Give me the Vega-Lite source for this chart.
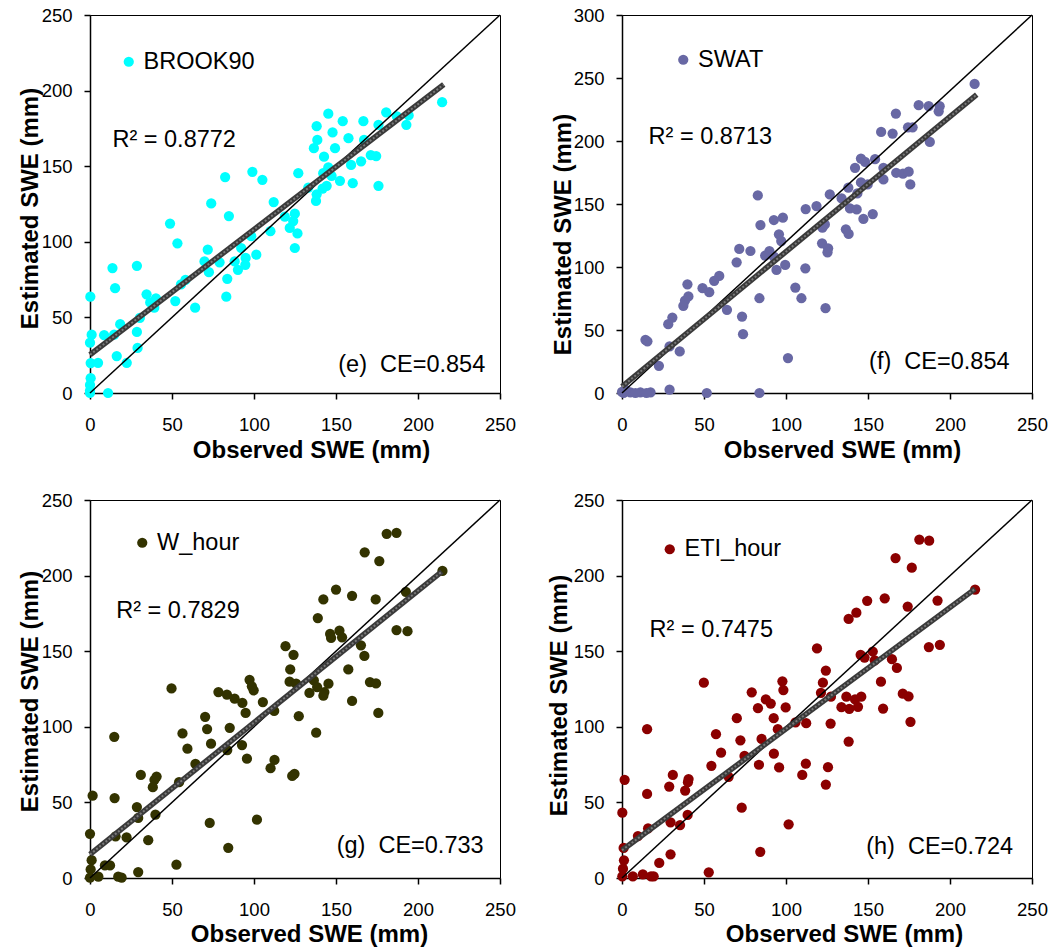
{
"$schema": "https://vega.github.io/schema/vega-lite/v6.json",
"padding": {"left": 17, "top": 5, "right": 5, "bottom": 5},
"background": "white",
"columns": 2,
"spacing": {"row": 107, "column": 122},
"bounds": "flush",
"resolve": {"scale": {"color": "independent"}, "legend": {"color": "independent"}},
"datasets": {
"e": [{"o":214.7,"s":192.3},{"o":180.6,"s":185.6},{"o":145.3,"s":184.7},{"o":154.1,"s":179.8},{"o":166.7,"s":179.8},{"o":187.1,"s":183},{"o":194.3,"s":183.6},{"o":192.9,"s":177.4},{"o":175.9,"s":177.4},{"o":138.2,"s":176.5},{"o":147.9,"s":172.3},{"o":138.6,"s":167.4},{"o":157.6,"s":168.5},{"o":167.1,"s":167.4},{"o":136.5,"s":161.9},{"o":149.4,"s":161.9},{"o":142.7,"s":156.3},{"o":171.2,"s":157.4},{"o":174.5,"s":156.7},{"o":165.3,"s":153.2},{"o":159.2,"s":150.8},{"o":145.3,"s":149.2},{"o":142.2,"s":145.4},{"o":147.3,"s":143.6},{"o":152.4,"s":140.3},{"o":160.2,"s":138.8},{"o":175.9,"s":137},{"o":144.3,"s":137},{"o":141.8,"s":135.2},{"o":133.1,"s":135.9},{"o":138.2,"s":131.4},{"o":137.8,"s":127},{"o":127,"s":145.4},{"o":99,"s":146.3},{"o":105.1,"s":141},{"o":82.4,"s":142.8},{"o":112,"s":126.3},{"o":73.9,"s":125.4},{"o":84.7,"s":117},{"o":118.8,"s":116.6},{"o":124.9,"s":118.6},{"o":123.9,"s":113.7},{"o":121.8,"s":109.2},{"o":126.5,"s":105.5},{"o":110,"s":107},{"o":124.9,"s":95.9},{"o":48.8,"s":112.1},{"o":53.3,"s":99},{"o":71.8,"s":94.8},{"o":92.2,"s":95.9},{"o":98.3,"s":103.7},{"o":101.4,"s":91.5},{"o":94.9,"s":89.3},{"o":69.8,"s":87},{"o":79,"s":86.4},{"o":88.2,"s":87},{"o":94.7,"s":84.8},{"o":90.2,"s":81.5},{"o":72.5,"s":79.9},{"o":83.7,"s":75.5},{"o":58.2,"s":74.8},{"o":55.5,"s":71.9},{"o":83.1,"s":63.7},{"o":13.7,"s":82.6},{"o":28.6,"s":84.1},{"o":15.3,"s":69.3},{"o":34.5,"s":65.3},{"o":40.2,"s":62.6},{"o":36.7,"s":59.9},{"o":39.2,"s":56.4},{"o":52,"s":60.8},{"o":64.1,"s":56.4},{"o":0.2,"s":63.7},{"o":30.4,"s":49.7},{"o":18.4,"s":45.5},{"o":1,"s":38.6},{"o":8.6,"s":38.2},{"o":14.7,"s":38.6},{"o":28.6,"s":40.4},{"o":0,"s":33.3},{"o":29,"s":29.8},{"o":16.3,"s":24.4},{"o":22.4,"s":20},{"o":0.4,"s":19.8},{"o":4.9,"s":20},{"o":0.4,"s":9.8},{"o":0,"s":5.3},{"o":0,"s":1.6},{"o":11,"s":0},{"o":0,"s":0}],
"f": [{"o":215,"s":245.3},{"o":180.9,"s":228.4},{"o":187,"s":227.6},{"o":193.7,"s":227.6},{"o":193.1,"s":223.6},{"o":167,"s":221.8},{"o":158,"s":207.2},{"o":165,"s":205.9},{"o":174.4,"s":210.9},{"o":177.2,"s":210.9},{"o":187.7,"s":199.3},{"o":145.7,"s":186.1},{"o":148.2,"s":183.5},{"o":154.3,"s":185.6},{"o":142.1,"s":178.7},{"o":159.4,"s":178.7},{"o":167.2,"s":174.8},{"o":171.3,"s":174.2},{"o":174.8,"s":175.6},{"o":159.4,"s":169.5},{"o":175.8,"s":165.5},{"o":145.7,"s":167.1},{"o":149.8,"s":165.5},{"o":138,"s":162.9},{"o":143.5,"s":158.4},{"o":126.7,"s":157.6},{"o":133.9,"s":154.4},{"o":118.6,"s":148.4},{"o":112,"s":146},{"o":139,"s":146.5},{"o":143.1,"s":145.7},{"o":152.9,"s":142},{"o":147.2,"s":138.1},{"o":82.8,"s":156.8},{"o":84.4,"s":133.3},{"o":92.6,"s":137.3},{"o":98.1,"s":139.1},{"o":95.7,"s":125.9},{"o":97.1,"s":120.6},{"o":122.2,"s":131.2},{"o":123.7,"s":133.8},{"o":136.5,"s":129.9},{"o":138.2,"s":126.2},{"o":122,"s":118.8},{"o":125.7,"s":114.8},{"o":125.3,"s":111.7},{"o":71.5,"s":114.3},{"o":78.3,"s":112.7},{"o":89.9,"s":112.7},{"o":87.3,"s":109},{"o":92.6,"s":108.2},{"o":69.9,"s":103.7},{"o":99.5,"s":101.6},{"o":94.2,"s":97.7},{"o":111.8,"s":99},{"o":59.3,"s":92.9},{"o":56.2,"s":89},{"o":49.1,"s":83.2},{"o":53.2,"s":80},{"o":105.7,"s":83.7},{"o":109.4,"s":75.2},{"o":83.8,"s":75.2},{"o":39.9,"s":86.3},{"o":40.5,"s":76.6},{"o":38.4,"s":73.4},{"o":37.4,"s":69.2},{"o":64,"s":66},{"o":124.1,"s":67.3},{"o":30.7,"s":59.9},{"o":28.2,"s":54.6},{"o":73.2,"s":60.7},{"o":73.8,"s":46.7},{"o":14.3,"s":42.2},{"o":15.5,"s":41},{"o":29,"s":37},{"o":35.2,"s":33},{"o":101.2,"s":27.7},{"o":22.5,"s":21.6},{"o":0,"s":0.8},{"o":5.1,"s":0.5},{"o":11.2,"s":0.5},{"o":17.4,"s":0.5},{"o":29,"s":2.6},{"o":51.7,"s":0},{"o":83.8,"s":0},{"o":1,"s":0},{"o":8.2,"s":0},{"o":14.9,"s":0},{"o":2,"s":2.6}],
"g": [{"o":214.9,"s":203.1},{"o":180.9,"s":227.6},{"o":186.9,"s":228.3},{"o":167.5,"s":215.4},{"o":176.4,"s":209.6},{"o":150,"s":190.8},{"o":159.8,"s":186.6},{"o":142.3,"s":184.2},{"o":174.2,"s":184.2},{"o":192.6,"s":189.3},{"o":138.9,"s":171.9},{"o":186.9,"s":164},{"o":193.6,"s":163.2},{"o":146.4,"s":161.4},{"o":152.1,"s":163.6},{"o":153.7,"s":159.2},{"o":147,"s":158.8},{"o":165.2,"s":153.9},{"o":167.3,"s":146.9},{"o":119.2,"s":153.3},{"o":124.1,"s":147.6},{"o":122.1,"s":137.9},{"o":157.5,"s":137.9},{"o":121.7,"s":129.8},{"o":125.7,"s":128.5},{"o":136.5,"s":130.7},{"o":138.5,"s":126.3},{"o":145.4,"s":128.5},{"o":133.8,"s":122.4},{"o":142.9,"s":123},{"o":142.3,"s":120.6},{"o":170.7,"s":129.6},{"o":174.4,"s":128.7},{"o":159.8,"s":117.1},{"o":175.8,"s":109.2},{"o":97.3,"s":131.1},{"o":98.7,"s":126.8},{"o":99.8,"s":124.1},{"o":78.3,"s":123},{"o":83.5,"s":121.3},{"o":88.2,"s":118.6},{"o":92.9,"s":115.8},{"o":105.4,"s":116.4},{"o":94.9,"s":109.2},{"o":112.3,"s":110.5},{"o":127.3,"s":107},{"o":49.7,"s":125.4},{"o":70.2,"s":106.6},{"o":71.4,"s":98.5},{"o":85.2,"s":99.3},{"o":137.9,"s":96.1},{"o":56.4,"s":95.6},{"o":14.8,"s":93.4},{"o":59.4,"s":85.5},{"o":73.8,"s":88.8},{"o":92.7,"s":87.9},{"o":83.7,"s":84.6},{"o":64.3,"s":75.4},{"o":95.7,"s":78.9},{"o":112.5,"s":78.1},{"o":110.1,"s":72.6},{"o":124.7,"s":68.9},{"o":123.3,"s":67.5},{"o":31,"s":68.2},{"o":40.6,"s":67.1},{"o":39.3,"s":64.9},{"o":38.3,"s":60.1},{"o":54.3,"s":63.4},{"o":1.6,"s":54.4},{"o":15,"s":52.9},{"o":28.6,"s":46.9},{"o":29.4,"s":39.7},{"o":39.9,"s":41.9},{"o":73,"s":36.4},{"o":101.8,"s":38.6},{"o":0,"s":29.2},{"o":15.6,"s":27.6},{"o":22.3,"s":26.8},{"o":35.5,"s":25},{"o":84.3,"s":20},{"o":1,"s":11.8},{"o":9.1,"s":8.3},{"o":12.2,"s":8.3},{"o":52.7,"s":8.8},{"o":0.4,"s":5.7},{"o":29.4,"s":3.9},{"o":5.1,"s":0.9},{"o":17.2,"s":0.9},{"o":19.3,"s":0.2},{"o":0,"s":0.2}],
"h": [{"o":215.3,"s":190.8},{"o":181.3,"s":223.8},{"o":187.3,"s":223.1},{"o":166.8,"s":211.6},{"o":176.7,"s":205.2},{"o":149.5,"s":183.3},{"o":160.2,"s":185},{"o":142.9,"s":175.5},{"o":138.2,"s":171.3},{"o":174.2,"s":179.5},{"o":192.4,"s":183.5},{"o":187.1,"s":152.7},{"o":193.8,"s":154.2},{"o":118.9,"s":151.8},{"o":145.5,"s":147.6},{"o":147.9,"s":145.8},{"o":152.9,"s":149.8},{"o":154.1,"s":144},{"o":164.6,"s":144.7},{"o":167.6,"s":138.9},{"o":124.3,"s":137.2},{"o":122.5,"s":129.2},{"o":157.9,"s":129.8},{"o":97.8,"s":130.1},{"o":98.4,"s":124.3},{"o":121.3,"s":122.5},{"o":127.4,"s":119.9},{"o":136.8,"s":119.9},{"o":142.1,"s":118.1},{"o":145.9,"s":119.9},{"o":133.8,"s":113},{"o":138.6,"s":111.9},{"o":143.9,"s":113.2},{"o":171.2,"s":121.9},{"o":174.7,"s":120.1},{"o":159.2,"s":112.1},{"o":175.9,"s":103.3},{"o":49.9,"s":129.2},{"o":79.1,"s":122.8},{"o":87.7,"s":118.1},{"o":90.7,"s":115.4},{"o":82.9,"s":112.3},{"o":99.8,"s":112.8},{"o":70,"s":105.7},{"o":92.5,"s":105.7},{"o":105.8,"s":103},{"o":112.3,"s":102.4},{"o":127.2,"s":102.1},{"o":95,"s":98.4},{"o":15.3,"s":98.4},{"o":57.3,"s":95.1},{"o":72.2,"s":91.1},{"o":85.1,"s":92},{"o":138.2,"s":90.2},{"o":60.4,"s":82.9},{"o":74.7,"s":80.7},{"o":92.6,"s":82.2},{"o":54.5,"s":74.2},{"o":83.5,"s":74.9},{"o":95.8,"s":73.1},{"o":112.1,"s":75.6},{"o":125.6,"s":73.3},{"o":109.9,"s":68.2},{"o":124.3,"s":61.8},{"o":65,"s":66.9},{"o":31,"s":68.2},{"o":40.6,"s":65.4},{"o":40.2,"s":63.4},{"o":28.8,"s":60.5},{"o":38.5,"s":57.8},{"o":1.6,"s":64.9},{"o":15.3,"s":55.6},{"o":73,"s":46.5},{"o":0.2,"s":43.2},{"o":40,"s":41.7},{"o":29.6,"s":36.8},{"o":35.4,"s":35},{"o":101.6,"s":35.5},{"o":15.9,"s":32.8},{"o":9.7,"s":27.7},{"o":1,"s":19.9},{"o":29.6,"s":15.7},{"o":84.3,"s":17.3},{"o":1.2,"s":11.7},{"o":22.7,"s":10},{"o":0.6,"s":6.2},{"o":52.9,"s":3.8},{"o":6.6,"s":1.1},{"o":12.7,"s":2.4},{"o":17.7,"s":1.1},{"o":19.3,"s":1.1},{"o":0.2,"s":1.1}]
},
"concat": [
{
"width": 410, "height": 378,
"layer": [
{"data": {"name": "e"}, "mark": {"type": "circle", "size": 105, "opacity": 1},
 "encoding": {
  "x": {"field": "o", "type": "quantitative", "scale": {"domain": [0, 250], "nice": false}, "axis": {"values": [0,50,100,150,200,250], "title": "Observed SWE (mm)", "titleX": 221, "titleY": 64}},
  "y": {"field": "s", "type": "quantitative", "scale": {"domain": [0, 250], "nice": false}, "axis": {"values": [0,50,100,150,200,250], "title": "Estimated SWE (mm)", "titleX": -53, "titleY": 193}},
  "color": {"datum": "BROOK90", "type": "nominal", "scale": {"range": ["#00FFFF"]}, "legend": {"title": null, "legendX": 27, "legendY": 35}}
 }},
{"data": {"values": [{"o": 0, "s": 0}, {"o": 250, "s": 250}]}, "mark": {"type": "line", "color": "black", "strokeWidth": 1.5},
 "encoding": {"x": {"field": "o", "type": "quantitative"}, "y": {"field": "s", "type": "quantitative"}}},
{"data": {"values": [{"o": 0, "s": 25.3}, {"o": 215.7, "s": 204}]}, "mark": {"type": "line", "color": "#3a3a3a", "strokeWidth": 5.5, "strokeCap": "butt"},
 "encoding": {"x": {"field": "o", "type": "quantitative"}, "y": {"field": "s", "type": "quantitative"}}},
{"data": {"values": [{"o": 0, "s": 25.3}, {"o": 215.7, "s": 204}]}, "mark": {"type": "line", "color": "#7a7a7a", "strokeWidth": 2, "strokeDash": [2, 2], "strokeCap": "butt"},
 "encoding": {"x": {"field": "o", "type": "quantitative"}, "y": {"field": "s", "type": "quantitative"}}},
{"data": {"values": [{"o": 13.7, "s": 167, "t": "R² = 0.8772"}]}, "mark": {"type": "text", "align": "left", "baseline": "middle", "fontSize": 23.5, "font": "Liberation Sans", "color": "black"},
 "encoding": {"x": {"field": "o", "type": "quantitative"}, "y": {"field": "s", "type": "quantitative"}, "text": {"field": "t"}}},
{"data": {"values": [{"o": 241, "s": 18.3, "t": "(e)\u00a0 CE=0.854"}]}, "mark": {"type": "text", "align": "right", "baseline": "middle", "fontSize": 23.5, "font": "Liberation Sans", "color": "black"},
 "encoding": {"x": {"field": "o", "type": "quantitative"}, "y": {"field": "s", "type": "quantitative"}, "text": {"field": "t"}}}
]
},
{
"width": 410, "height": 378,
"layer": [
{"data": {"name": "f"}, "mark": {"type": "circle", "size": 105, "opacity": 1},
 "encoding": {
  "x": {"field": "o", "type": "quantitative", "scale": {"domain": [0, 250], "nice": false}, "axis": {"values": [0,50,100,150,200,250], "title": "Observed SWE (mm)", "titleX": 220, "titleY": 64}},
  "y": {"field": "s", "type": "quantitative", "scale": {"domain": [0, 300], "nice": false}, "axis": {"values": [0,50,100,150,200,250,300], "title": "Estimated SWE (mm)", "titleX": -52, "titleY": 219}},
  "color": {"datum": "SWAT", "type": "nominal", "scale": {"range": ["#6868A4"]}, "legend": {"title": null, "legendX": 49.5, "legendY": 33}}
 }},
{"data": {"values": [{"o": 0, "s": 0}, {"o": 250, "s": 300}]}, "mark": {"type": "line", "color": "black", "strokeWidth": 1.5},
 "encoding": {"x": {"field": "o", "type": "quantitative"}, "y": {"field": "s", "type": "quantitative"}}},
{"data": {"values": [{"o": 0, "s": 5}, {"o": 216.3, "s": 236.8}]}, "mark": {"type": "line", "color": "#3a3a3a", "strokeWidth": 5.5, "strokeCap": "butt"},
 "encoding": {"x": {"field": "o", "type": "quantitative"}, "y": {"field": "s", "type": "quantitative"}}},
{"data": {"values": [{"o": 0, "s": 5}, {"o": 216.3, "s": 236.8}]}, "mark": {"type": "line", "color": "#7a7a7a", "strokeWidth": 2, "strokeDash": [2, 2], "strokeCap": "butt"},
 "encoding": {"x": {"field": "o", "type": "quantitative"}, "y": {"field": "s", "type": "quantitative"}}},
{"data": {"values": [{"o": 16.2, "s": 202.9, "t": "R² = 0.8713"}]}, "mark": {"type": "text", "align": "left", "baseline": "middle", "fontSize": 23.5, "font": "Liberation Sans", "color": "black"},
 "encoding": {"x": {"field": "o", "type": "quantitative"}, "y": {"field": "s", "type": "quantitative"}, "text": {"field": "t"}}},
{"data": {"values": [{"o": 236.3, "s": 24.5, "t": "(f)\u00a0 CE=0.854"}]}, "mark": {"type": "text", "align": "right", "baseline": "middle", "fontSize": 23.5, "font": "Liberation Sans", "color": "black"},
 "encoding": {"x": {"field": "o", "type": "quantitative"}, "y": {"field": "s", "type": "quantitative"}, "text": {"field": "t"}}}
]
},
{
"width": 410, "height": 378,
"layer": [
{"data": {"name": "g"}, "mark": {"type": "circle", "size": 105, "opacity": 1},
 "encoding": {
  "x": {"field": "o", "type": "quantitative", "scale": {"domain": [0, 250], "nice": false}, "axis": {"values": [0,50,100,150,200,250], "title": "Observed SWE (mm)", "titleX": 219, "titleY": 63}},
  "y": {"field": "s", "type": "quantitative", "scale": {"domain": [0, 250], "nice": false}, "axis": {"values": [0,50,100,150,200,250], "title": "Estimated SWE (mm)", "titleX": -53, "titleY": 191}},
  "color": {"datum": "W_hour", "type": "nominal", "scale": {"range": ["#333300"]}, "legend": {"title": null, "legendX": 40.5, "legendY": 31}}
 }},
{"data": {"values": [{"o": 0, "s": 0}, {"o": 250, "s": 250}]}, "mark": {"type": "line", "color": "black", "strokeWidth": 1.5},
 "encoding": {"x": {"field": "o", "type": "quantitative"}, "y": {"field": "s", "type": "quantitative"}}},
{"data": {"values": [{"o": 0, "s": 15.6}, {"o": 214.5, "s": 202.6}]}, "mark": {"type": "line", "color": "#3a3a3a", "strokeWidth": 5.5, "strokeCap": "butt"},
 "encoding": {"x": {"field": "o", "type": "quantitative"}, "y": {"field": "s", "type": "quantitative"}}},
{"data": {"values": [{"o": 0, "s": 15.6}, {"o": 214.5, "s": 202.6}]}, "mark": {"type": "line", "color": "#7a7a7a", "strokeWidth": 2, "strokeDash": [2, 2], "strokeCap": "butt"},
 "encoding": {"x": {"field": "o", "type": "quantitative"}, "y": {"field": "s", "type": "quantitative"}}},
{"data": {"values": [{"o": 16, "s": 176.9, "t": "R² = 0.7829"}]}, "mark": {"type": "text", "align": "left", "baseline": "middle", "fontSize": 23.5, "font": "Liberation Sans", "color": "black"},
 "encoding": {"x": {"field": "o", "type": "quantitative"}, "y": {"field": "s", "type": "quantitative"}, "text": {"field": "t"}}},
{"data": {"values": [{"o": 240, "s": 20.9, "t": "(g)\u00a0 CE=0.733"}]}, "mark": {"type": "text", "align": "right", "baseline": "middle", "fontSize": 23.5, "font": "Liberation Sans", "color": "black"},
 "encoding": {"x": {"field": "o", "type": "quantitative"}, "y": {"field": "s", "type": "quantitative"}, "text": {"field": "t"}}}
]
},
{
"width": 410, "height": 378,
"layer": [
{"data": {"name": "h"}, "mark": {"type": "circle", "size": 105, "opacity": 1},
 "encoding": {
  "x": {"field": "o", "type": "quantitative", "scale": {"domain": [0, 250], "nice": false}, "axis": {"values": [0,50,100,150,200,250], "title": "Observed SWE (mm)", "titleX": 222, "titleY": 63}},
  "y": {"field": "s", "type": "quantitative", "scale": {"domain": [0, 250], "nice": false}, "axis": {"values": [0,50,100,150,200,250], "title": "Estimated SWE (mm)", "titleX": -56, "titleY": 195}},
  "color": {"datum": "ETI_hour", "type": "nominal", "scale": {"range": ["#8B0000"]}, "legend": {"title": null, "legendX": 36, "legendY": 37.5}}
 }},
{"data": {"values": [{"o": 0, "s": 0}, {"o": 250, "s": 250}]}, "mark": {"type": "line", "color": "black", "strokeWidth": 1.5},
 "encoding": {"x": {"field": "o", "type": "quantitative"}, "y": {"field": "s", "type": "quantitative"}}},
{"data": {"values": [{"o": 0, "s": 18.4}, {"o": 215.3, "s": 191.2}]}, "mark": {"type": "line", "color": "#3a3a3a", "strokeWidth": 5.5, "strokeCap": "butt"},
 "encoding": {"x": {"field": "o", "type": "quantitative"}, "y": {"field": "s", "type": "quantitative"}}},
{"data": {"values": [{"o": 0, "s": 18.4}, {"o": 215.3, "s": 191.2}]}, "mark": {"type": "line", "color": "#7a7a7a", "strokeWidth": 2, "strokeDash": [2, 2], "strokeCap": "butt"},
 "encoding": {"x": {"field": "o", "type": "quantitative"}, "y": {"field": "s", "type": "quantitative"}}},
{"data": {"values": [{"o": 16.8, "s": 164, "t": "R² = 0.7475"}]}, "mark": {"type": "text", "align": "left", "baseline": "middle", "fontSize": 23.5, "font": "Liberation Sans", "color": "black"},
 "encoding": {"x": {"field": "o", "type": "quantitative"}, "y": {"field": "s", "type": "quantitative"}, "text": {"field": "t"}}},
{"data": {"values": [{"o": 238.5, "s": 20.3, "t": "(h)\u00a0 CE=0.724"}]}, "mark": {"type": "text", "align": "right", "baseline": "middle", "fontSize": 23.5, "font": "Liberation Sans", "color": "black"},
 "encoding": {"x": {"field": "o", "type": "quantitative"}, "y": {"field": "s", "type": "quantitative"}, "text": {"field": "t"}}}
]
}
],
"config": {
 "view": {"stroke": "black", "strokeWidth": 1},
 "font": "Liberation Sans",
 "axis": {"domainColor": "black", "domainWidth": 1.5, "tickColor": "black", "tickWidth": 1.5, "tickSize": 6, "labelFont": "Liberation Sans", "labelFontSize": 18.5, "labelColor": "black", "labelFlush": false, "labelOverlap": false, "titleFont": "Liberation Sans", "titleFontSize": 24, "titleFontWeight": "bold", "titleColor": "black", "titleBaseline": "alphabetic", "titleAlign": "center", "grid": false},
 "axisX": {"labelPadding": 16},
 "axisY": {"labelPadding": 12, "titleAngle": 270},
 "legend": {"orient": "none", "labelFont": "Liberation Sans", "labelFontSize": 23.5, "labelColor": "black", "symbolType": "circle", "symbolSize": 105, "symbolStrokeWidth": 0, "labelOffset": 3, "padding": 0}
}
}
